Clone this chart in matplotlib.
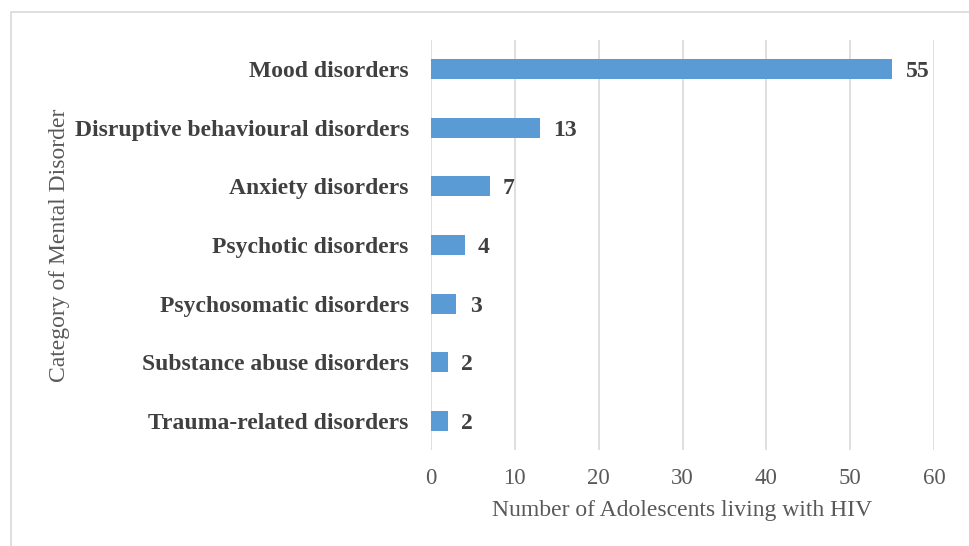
import matplotlib.pyplot as plt
from matplotlib.patches import Rectangle

categories = [
    "Mood disorders",
    "Disruptive behavioural disorders",
    "Anxiety disorders",
    "Psychotic disorders",
    "Psychosomatic disorders",
    "Substance abuse disorders",
    "Trauma-related disorders",
]
counts = [55, 13, 7, 4, 3, 2, 2]
x_ticks = [0, 10, 20, 30, 40, 50, 60]

plt.rcParams['font.family'] = ['Liberation Serif', 'DejaVu Serif']

fig = plt.figure(figsize=(9.7, 5.46), dpi=100)
ax = fig.add_axes([431 / 970, 1 - 450 / 546, 503 / 970, 410 / 546])

# chart frame
fig.patches.append(Rectangle((11 / 970, -0.05), 1.1, 1 - 12 / 546 + 0.05,
                             transform=fig.transFigure, fill=False,
                             edgecolor='#d9d9d9', linewidth=1.2))

ypos = list(range(len(categories)))
ax.barh(ypos, counts, height=0.34, color='#5b9bd5', zorder=3)
for y, v in zip(ypos, counts):
    ax.text(v + 1.6, y, str(v), va='center_baseline', ha='left', fontsize=17,
            fontweight='bold', color='#404040')

ax.set_xlim(0, 60)
ax.set_ylim(len(categories) - 0.5, -0.5)
ax.set_xticks(x_ticks)
ax.set_yticks(ypos)
ax.set_yticklabels(categories, fontsize=17, fontweight='bold', color='#404040')
ax.tick_params(axis='x', labelsize=16.5, labelcolor='#595959', length=0, pad=13)
ax.tick_params(axis='y', length=0, pad=16)
ax.grid(axis='x', color='#d9d9d9', linewidth=1.2, zorder=0)
for s in ax.spines.values():
    s.set_visible(False)

ax.set_xlabel("Number of Adolescents living with HIV", fontsize=17,
              color='#595959', labelpad=8)
fig.text(60 / 970, 1 - 245 / 546, "Category of Mental Disorder", rotation=90,
         ha='center', va='center', fontsize=17, color='#595959')

fig.savefig('out.png', dpi=100)
